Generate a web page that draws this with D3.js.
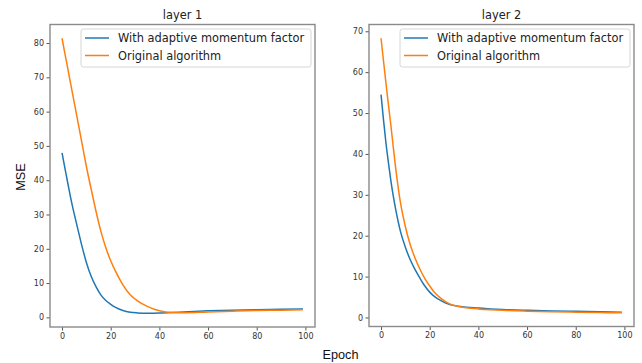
<!DOCTYPE html>
<html>
<head>
<meta charset="utf-8">
<script src="https://cdn.jsdelivr.net/npm/d3@7"></script>
<style>
  body { margin: 0; background: #fff; }
  svg { font-family: "DejaVu Sans", sans-serif; display: block; }
</style>
</head>
<body>
<div id="chart"></div>
<script>
const epochs = [0, 1, 2, 3, 4, 5, 6, 8, 10, 12, 14, 16, 18, 20, 22, 25, 28, 31, 35, 40, 45, 50, 60, 70, 80, 90, 99];

// layer 1
const layer1Adaptive = [48.0, 44.2, 40.5, 36.8, 33.3, 30.2, 27.2, 21.3, 16.0, 11.9, 8.9, 6.5, 4.9, 3.8, 2.9, 2.0, 1.5, 1.3, 1.2, 1.25, 1.4, 1.6, 1.9, 2.1, 2.25, 2.35, 2.45];
const layer1Original = [81.4, 77.6, 73.9, 70.1, 66.4, 62.7, 59.0, 51.5, 44.0, 37.3, 30.8, 25.0, 20.3, 16.5, 13.4, 9.5, 6.6, 4.8, 3.2, 1.9, 1.4, 1.35, 1.6, 1.8, 2.0, 2.1, 2.2];

// layer 2
const layer2Adaptive = [54.5, 48.4, 42.8, 38.0, 33.6, 29.8, 26.5, 21.0, 17.2, 14.1, 11.7, 9.6, 7.7, 6.2, 5.1, 4.0, 3.2, 2.8, 2.5, 2.3, 2.1, 1.95, 1.75, 1.6, 1.5, 1.4, 1.3];
const layer2Original = [68.3, 62.8, 57.4, 52.2, 47.2, 41.8, 36.6, 28.0, 22.2, 17.8, 14.5, 11.8, 9.5, 7.7, 6.1, 4.5, 3.4, 2.8, 2.4, 2.1, 1.9, 1.75, 1.55, 1.4, 1.3, 1.2, 1.15];

const seriesNames = ["With adaptive momentum factor", "Original algorithm"];
const colors = ["#1f77b4", "#ff7f0e"];
const titles = ["layer 1", "layer 2"];
const xTicks = [0, 20, 40, 60, 80, 100];
const yTicks1 = [0, 10, 20, 30, 40, 50, 60, 70, 80];
const yTicks2 = [0, 10, 20, 30, 40, 50, 60, 70];

const width = 642, height = 363;

const svg = d3.select("#chart")
  .append("svg")
  .attr("width", width)
  .attr("height", height);

// panel frames (pixel layout)
const panels = [
  { left: 50, right: 315, top: 24.5, bottom: 327, title: titles[0], series: [layer1Adaptive, layer1Original], yTicks: yTicks1 },
  { left: 369, right: 634, top: 24.5, bottom: 326.5, title: titles[1], series: [layer2Adaptive, layer2Original], yTicks: yTicks2 },
];

// matplotlib-like 5% margins
function padded(lo, hi) {
  const m = (hi - lo) * 0.05;
  return [lo - m, hi + m];
}

panels.forEach((p) => {
  const all = p.series.flat();
  const x = d3.scaleLinear()
    .domain(padded(d3.min(epochs), d3.max(epochs)))
    .range([p.left, p.right]);
  const y = d3.scaleLinear()
    .domain(padded(d3.min(all), d3.max(all)))
    .range([p.bottom, p.top]);

  const g = svg.append("g");

  // Axes
  const xAxis = g.append("g")
    .attr("transform", `translate(0,${p.bottom})`)
    .call(d3.axisBottom(x).tickValues(xTicks).tickSize(3.5).tickPadding(2.5).tickFormat(d3.format("d")));
  const yAxis = g.append("g")
    .attr("transform", `translate(${p.left},0)`)
    .call(d3.axisLeft(y).tickValues(p.yTicks).tickSize(3.5).tickPadding(2.5).tickFormat(d3.format("d")));

  [xAxis, yAxis].forEach((a) => {
    a.select(".domain").remove();
    a.selectAll(".tick line").attr("stroke", "#555").attr("stroke-width", 1);
    a.selectAll(".tick text")
      .attr("fill", "#333")
      .style("font-family", "DejaVu Sans")
      .style("font-size", "8px");
  });

  // Lines
  const line = d3.line()
    .x((d, i) => x(epochs[i]))
    .y((d) => y(d))
    .curve(d3.curveMonotoneX);

  p.series.forEach((s, k) => {
    g.append("path")
      .datum(s)
      .attr("fill", "none")
      .attr("stroke", colors[k])
      .attr("stroke-width", 1.5)
      .attr("d", line);
  });

  // Frame
  g.append("rect")
    .attr("x", p.left)
    .attr("y", p.top)
    .attr("width", p.right - p.left)
    .attr("height", p.bottom - p.top)
    .attr("fill", "none")
    .attr("stroke", "#8a8a8a")
    .attr("stroke-width", 1.4);

  // Title
  g.append("text")
    .attr("x", (p.left + p.right) / 2)
    .attr("y", p.top - 6)
    .attr("text-anchor", "middle")
    .style("font-size", "11.4px")
    .attr("fill", "#222")
    .text(p.title);

  // Legend
  const lg = g.append("g")
    .attr("transform", `translate(${p.right - 234},${p.top + 4.5})`);
  lg.append("rect")
    .attr("width", 230)
    .attr("height", 38)
    .attr("rx", 2.5)
    .attr("fill", "#fff")
    .attr("fill-opacity", 0.8)
    .attr("stroke", "#d6d6d6")
    .attr("stroke-width", 1);
  seriesNames.forEach((name, k) => {
    const yy = 9 + k * 17.5;
    lg.append("line")
      .attr("x1", 4).attr("x2", 28)
      .attr("y1", yy).attr("y2", yy)
      .attr("stroke", colors[k])
      .attr("stroke-width", 1.5);
    lg.append("text")
      .attr("x", 37)
      .attr("y", yy + 4)
      .style("font-size", "11.4px")
      .attr("fill", "#222")
      .text(name);
  });
});

// Shared axis labels
svg.append("text")
  .attr("transform", "translate(24.5,177) rotate(-90)")
  .attr("text-anchor", "middle")
  .style("font-family", "Liberation Sans")
  .style("font-size", "12.7px")
  .attr("fill", "#111")
  .text("MSE");

svg.append("text")
  .attr("x", 340.5)
  .attr("y", 358.5)
  .attr("text-anchor", "middle")
  .style("font-family", "Liberation Sans")
  .style("font-size", "12.7px")
  .attr("fill", "#111")
  .text("Epoch");
</script>
</body>
</html>
